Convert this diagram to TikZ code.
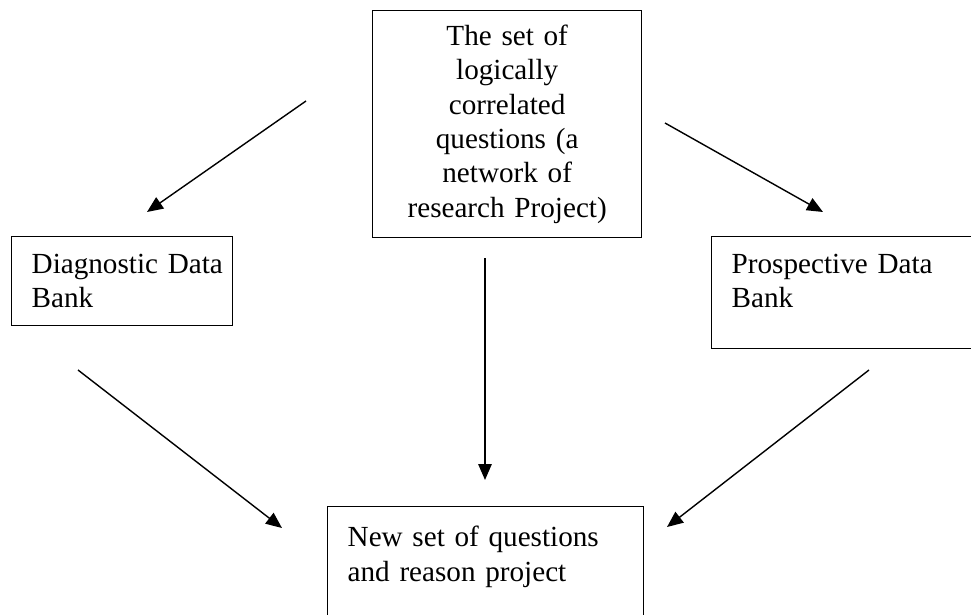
\documentclass[tikz,border=0pt]{standalone}
\usepackage{fontspec}
\setmainfont{Liberation Serif}
\usetikzlibrary{arrows.meta}

\begin{document}
\begin{tikzpicture}[->,>={Triangle[length=0.32cm,width=0.27cm]},x=0.02cm,y=-0.02cm,
                    line width=0.8pt]
  \tikzstyle{every node}=[font=\fontsize{16.6}{19.6}\selectfont]
  \tikzstyle{databox}=[draw,anchor=north west,align=left,inner xsep=0.4cm,inner ysep=0.35cm]
  \useasboundingbox (0,0) rectangle (971,615);

  \node[draw,anchor=north west,align=center,text width=5.18cm,
        inner xsep=0.1cm,inner ysep=0.28cm] (quest) at (372,10)
        {The set of\\logically\\correlated\\questions (a\\network of\\research Project)};
  \node[databox,text width=3.62cm] (diag) at (11,236) {Diagnostic~Data\\Bank};
  \node[databox,text width=6cm,execute at end node={\par\vspace*{0.46cm}}] (prosp) at (711,236)
        {Prospective Data\\Bank};
  \node[databox,text width=5.52cm,inner ysep=0.39cm,execute at end node={\par\vspace*{1cm}}] (newset) at (327,506)
        {New set of questions\\and reason project};

  % free ends of the arrows
  \coordinate (qd)    at (306,101);
  \coordinate (dtip)  at (147,212);
  \coordinate (qp)    at (665,123);
  \coordinate (ptip)  at (823,212);
  \coordinate (qn)    at (485,258);
  \coordinate (ntip)  at (485,480);
  \coordinate (dn)    at (78,370);
  \coordinate (dntip) at (282,528);
  \coordinate (pn)    at (869,370);
  \coordinate (pntip) at (667,527);

  \path (qd) edge (dtip)
        (qp) edge (ptip)
        (qn) edge (ntip)
        (dn) edge (dntip)
        (pn) edge (pntip);
\end{tikzpicture}
\end{document}
